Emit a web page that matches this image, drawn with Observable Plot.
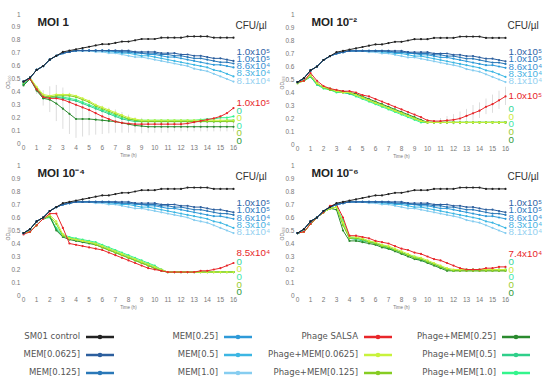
<!DOCTYPE html>
<html><head><meta charset="utf-8">
<script src="https://cdn.jsdelivr.net/npm/d3@7"></script>
<script src="https://cdn.jsdelivr.net/npm/@observablehq/plot@0.6"></script>
<style>
body{margin:0;background:#fff;}
#root{position:relative;width:550px;height:387px;overflow:hidden;font-family:"Liberation Sans",Arial,sans-serif;}
.panel{position:absolute;}
.lg{position:absolute;font-family:"DejaVu Sans",Verdana,sans-serif;font-size:8.5px;color:#555;white-space:nowrap;}
</style></head><body><div id="root"></div>
<script>
// ---------- data ----------
const time = [0,0.5,1,1.5,2,2.5,3,3.5,4,4.5,5,5.5,6,6.5,7,7.5,8,8.5,9,9.5,10,10.5,11,11.5,12,12.5,13,13.5,14,14.5,15,15.5,16];
const xTicks = [0,1,2,3,4,5,6,7,8,9,10,11,12,13,14,15,16];
const yTicks = [0,0.1,0.2,0.3,0.4,0.5,0.6,0.7,0.8,0.9,1];

const seriesNames = ["SM01 control","MEM[0.0625]","MEM[0.125]","MEM[0.25]","MEM[0.5]","MEM[1.0]",
  "Phage SALSA","Phage+MEM[0.0625]","Phage+MEM[0.125]","Phage+MEM[0.25]","Phage+MEM[0.5]","Phage+MEM[1.0]"];
const seriesColors = ["#222222","#2c5f9e","#2a78b8","#2e9ad8","#3cb6e3","#86cdf0",
  "#e8262a","#c8f23c","#86cc22","#2a8a2e","#2fcf8a","#33f58c"];

const panelTitles = ["MOI 1","MOI 10\u207B\u00B2","MOI 10\u207B\u2074","MOI 10\u207B\u2076"];
const memLabels = ["1.0x10\u2075","1.0x10\u2075","8.6x10\u2074","8.3x10\u2074","8.1x10\u2074"];
const memLabelColors = ["#2f63a6","#2c79c0","#3a92d4","#49b3e3","#93d0f0"];
const salsaLabels = ["1.0x10\u2075","1.0x10\u2075","8.5x10\u2074","7.4x10\u2074"];
const phageMemLabels = ["0","0","0","0","0"];
const phageMemLabelColors = ["#33d69a","#cbe93a","#3de8a8","#9ccc2e","#2f9a3a"];

// shared control and MEM-only curves
const control = [0.48,0.51,0.57,0.60,0.65,0.68,0.71,0.72,0.73,0.74,0.75,0.76,0.77,0.77,0.78,0.79,0.79,0.80,0.81,0.81,0.81,0.82,0.82,0.82,0.82,0.83,0.83,0.83,0.83,0.82,0.82,0.82,0.82];
const mem0625 = [0.48,0.51,0.57,0.60,0.65,0.68,0.70,0.71,0.72,0.72,0.72,0.72,0.72,0.72,0.72,0.72,0.72,0.71,0.71,0.71,0.71,0.70,0.70,0.70,0.69,0.69,0.68,0.68,0.67,0.66,0.66,0.65,0.64];
const mem125  = [0.48,0.51,0.57,0.60,0.65,0.68,0.70,0.71,0.72,0.72,0.72,0.72,0.72,0.72,0.72,0.71,0.71,0.71,0.70,0.70,0.70,0.69,0.69,0.68,0.68,0.67,0.66,0.66,0.65,0.64,0.63,0.63,0.62];
const mem25   = [0.48,0.51,0.57,0.60,0.65,0.68,0.70,0.71,0.72,0.72,0.72,0.72,0.72,0.72,0.71,0.71,0.71,0.70,0.70,0.69,0.69,0.68,0.67,0.67,0.66,0.65,0.64,0.63,0.62,0.61,0.61,0.60,0.59];
const mem5    = [0.48,0.51,0.57,0.60,0.65,0.68,0.70,0.71,0.72,0.72,0.72,0.72,0.72,0.71,0.71,0.70,0.70,0.69,0.68,0.68,0.67,0.66,0.65,0.64,0.63,0.62,0.61,0.60,0.59,0.57,0.56,0.54,0.52];
const mem10   = [0.48,0.51,0.57,0.60,0.65,0.68,0.70,0.71,0.72,0.72,0.72,0.71,0.71,0.70,0.70,0.69,0.68,0.67,0.67,0.66,0.65,0.64,0.63,0.62,0.61,0.60,0.58,0.57,0.56,0.54,0.52,0.50,0.48];

// MOI 1
const salsa_m1 = [0.48,0.50,0.42,0.36,0.35,0.35,0.34,0.32,0.30,0.28,0.26,0.235,0.21,0.19,0.17,0.16,0.155,0.15,0.15,0.15,0.15,0.15,0.15,0.15,0.15,0.155,0.165,0.175,0.185,0.195,0.21,0.235,0.275];
const pm0625_m1 = [0.48,0.51,0.44,0.38,0.37,0.38,0.38,0.38,0.37,0.35,0.33,0.30,0.28,0.26,0.24,0.22,0.20,0.19,0.18,0.18,0.18,0.18,0.18,0.18,0.18,0.18,0.18,0.18,0.18,0.18,0.18,0.18,0.18];
const pm125_m1 = [0.47,0.51,0.43,0.37,0.36,0.37,0.37,0.37,0.36,0.34,0.32,0.29,0.27,0.25,0.23,0.21,0.19,0.18,0.17,0.17,0.17,0.17,0.17,0.17,0.17,0.17,0.17,0.17,0.17,0.17,0.17,0.17,0.17];
const pm25_m1 = [0.45,0.50,0.41,0.35,0.34,0.31,0.27,0.23,0.19,0.19,0.19,0.185,0.18,0.175,0.17,0.16,0.15,0.14,0.135,0.13,0.13,0.13,0.13,0.13,0.13,0.13,0.13,0.13,0.13,0.13,0.13,0.13,0.13];
const pm5_m1 = [0.46,0.50,0.42,0.36,0.36,0.36,0.35,0.34,0.33,0.31,0.29,0.27,0.25,0.23,0.21,0.19,0.18,0.17,0.17,0.17,0.17,0.17,0.17,0.17,0.17,0.17,0.17,0.17,0.17,0.17,0.17,0.18,0.18];
const pm10_m1 = [0.46,0.50,0.42,0.35,0.36,0.36,0.36,0.35,0.34,0.32,0.30,0.28,0.26,0.24,0.22,0.20,0.19,0.18,0.18,0.18,0.18,0.18,0.18,0.18,0.18,0.18,0.18,0.185,0.19,0.19,0.20,0.20,0.21];
const err_m1 = [0,0,0.03,0.06,0.10,0.14,0.16,0.16,0.15,0.14,0.13,0.12,0.11,0.10,0.09,0.08,0.07,0.06,0.06,0.05,0.05,0.05,0.05,0.04,0.04,0.04,0.04,0.04,0.04,0.04,0.04,0.04,0.04];

// MOI 10^-2
const salsa_m2 = [0.48,0.49,0.55,0.49,0.45,0.43,0.42,0.41,0.41,0.40,0.38,0.37,0.35,0.33,0.31,0.29,0.27,0.25,0.23,0.21,0.185,0.18,0.18,0.185,0.19,0.20,0.22,0.24,0.26,0.29,0.31,0.34,0.37];
const pm0625_m2 = [0.48,0.49,0.53,0.47,0.44,0.43,0.41,0.40,0.40,0.38,0.36,0.34,0.32,0.30,0.28,0.26,0.24,0.22,0.20,0.18,0.17,0.17,0.17,0.17,0.17,0.17,0.17,0.17,0.17,0.17,0.17,0.17,0.17];
const pm125_m2 = [0.47,0.49,0.53,0.47,0.44,0.42,0.41,0.40,0.40,0.38,0.36,0.34,0.32,0.30,0.28,0.26,0.24,0.22,0.20,0.18,0.17,0.17,0.17,0.17,0.17,0.17,0.17,0.17,0.17,0.17,0.17,0.17,0.17];
const pm25_m2 = [0.48,0.49,0.53,0.47,0.44,0.43,0.41,0.41,0.40,0.39,0.37,0.35,0.33,0.31,0.29,0.27,0.25,0.23,0.21,0.19,0.17,0.17,0.17,0.17,0.17,0.17,0.17,0.17,0.17,0.17,0.17,0.17,0.17];
const pm5_m2 = [0.48,0.49,0.52,0.46,0.44,0.42,0.41,0.40,0.39,0.38,0.36,0.34,0.32,0.30,0.28,0.26,0.24,0.22,0.20,0.18,0.17,0.17,0.17,0.17,0.17,0.17,0.17,0.17,0.17,0.17,0.17,0.17,0.17];
const pm10_m2 = [0.48,0.49,0.52,0.46,0.43,0.42,0.40,0.40,0.39,0.37,0.35,0.33,0.31,0.29,0.27,0.25,0.23,0.21,0.19,0.17,0.17,0.17,0.17,0.17,0.17,0.17,0.17,0.17,0.17,0.17,0.17,0.17,0.17];
const err_m2 = [0,0,0,0,0,0,0,0,0,0,0,0,0,0,0,0,0,0,0,0,0,0,0.02,0.03,0.04,0.05,0.05,0.06,0.06,0.06,0.07,0.07,0.07];

// MOI 10^-4
const salsa_m3 = [0.47,0.49,0.54,0.59,0.63,0.63,0.52,0.40,0.39,0.38,0.37,0.36,0.35,0.33,0.31,0.29,0.27,0.25,0.23,0.21,0.20,0.19,0.18,0.18,0.18,0.18,0.18,0.19,0.19,0.20,0.21,0.23,0.25];
const pm0625_m3 = [0.48,0.49,0.54,0.59,0.62,0.57,0.47,0.44,0.43,0.42,0.41,0.40,0.38,0.36,0.34,0.32,0.30,0.28,0.26,0.24,0.22,0.20,0.18,0.18,0.18,0.18,0.18,0.18,0.18,0.18,0.18,0.18,0.18];
const pm125_m3 = [0.48,0.49,0.54,0.59,0.61,0.55,0.46,0.44,0.43,0.42,0.41,0.39,0.37,0.35,0.33,0.31,0.29,0.27,0.25,0.23,0.21,0.19,0.18,0.18,0.18,0.18,0.18,0.18,0.18,0.18,0.18,0.18,0.18];
const pm25_m3 = [0.48,0.49,0.54,0.59,0.61,0.50,0.45,0.43,0.42,0.41,0.40,0.39,0.37,0.35,0.33,0.31,0.29,0.27,0.25,0.23,0.21,0.19,0.18,0.18,0.18,0.18,0.18,0.18,0.18,0.18,0.18,0.18,0.18];
const pm5_m3 = [0.48,0.49,0.54,0.59,0.61,0.51,0.46,0.44,0.43,0.42,0.41,0.40,0.38,0.36,0.34,0.32,0.30,0.28,0.26,0.24,0.22,0.20,0.18,0.18,0.18,0.18,0.18,0.18,0.18,0.18,0.18,0.18,0.18];
const pm10_m3 = [0.48,0.49,0.54,0.59,0.60,0.52,0.47,0.45,0.44,0.43,0.42,0.41,0.39,0.37,0.35,0.33,0.31,0.29,0.27,0.25,0.23,0.20,0.18,0.18,0.18,0.18,0.18,0.18,0.18,0.18,0.18,0.18,0.18];

// MOI 10^-6
const salsa_m4 = [0.48,0.49,0.55,0.60,0.64,0.69,0.70,0.60,0.46,0.46,0.45,0.44,0.42,0.41,0.40,0.38,0.36,0.35,0.33,0.32,0.30,0.28,0.27,0.25,0.23,0.21,0.20,0.20,0.20,0.21,0.21,0.22,0.22];
const pm0625_m4 = [0.48,0.49,0.55,0.60,0.64,0.67,0.68,0.56,0.45,0.45,0.44,0.42,0.41,0.39,0.38,0.36,0.34,0.32,0.30,0.29,0.27,0.25,0.23,0.21,0.20,0.20,0.20,0.20,0.20,0.20,0.20,0.20,0.20];
const pm125_m4 = [0.48,0.49,0.55,0.60,0.64,0.67,0.68,0.54,0.44,0.44,0.43,0.41,0.40,0.38,0.37,0.35,0.33,0.31,0.29,0.28,0.26,0.24,0.22,0.20,0.19,0.19,0.19,0.19,0.19,0.19,0.19,0.19,0.19];
const pm25_m4 = [0.48,0.49,0.55,0.60,0.64,0.67,0.66,0.50,0.42,0.42,0.41,0.40,0.39,0.37,0.36,0.34,0.32,0.30,0.28,0.27,0.25,0.23,0.21,0.19,0.19,0.19,0.19,0.19,0.19,0.19,0.19,0.19,0.19];
const pm5_m4 = [0.48,0.49,0.55,0.60,0.64,0.67,0.68,0.55,0.44,0.43,0.42,0.41,0.40,0.38,0.36,0.35,0.33,0.31,0.29,0.27,0.26,0.24,0.22,0.20,0.19,0.20,0.20,0.20,0.20,0.20,0.20,0.20,0.20];
const pm10_m4 = [0.48,0.49,0.55,0.60,0.64,0.67,0.68,0.58,0.45,0.44,0.43,0.42,0.40,0.39,0.37,0.35,0.33,0.31,0.30,0.28,0.26,0.24,0.22,0.20,0.19,0.20,0.20,0.20,0.20,0.20,0.20,0.20,0.20];

// ---------- layout ----------
const memSeries = [control, mem0625, mem125, mem25, mem5, mem10];
const panels = [
  {left:0,   top:0,   mL:23, mR:42, mB:17, phage:[salsa_m1,pm0625_m1,pm125_m1,pm25_m1,pm5_m1,pm10_m1], err:err_m1, errOn:pm25_m1, redY:0.318, greenY:0.256},
  {left:275, top:0,   mL:22, mR:45, mB:16, phage:[salsa_m2,pm0625_m2,pm125_m2,pm25_m2,pm5_m2,pm10_m2], err:err_m2, errOn:salsa_m2, redY:0.377, greenY:0.275},
  {left:0,   top:151, mL:23, mR:42, mB:16, phage:[salsa_m3,pm0625_m3,pm125_m3,pm25_m3,pm5_m3,pm10_m3], err:null, redY:0.325, greenY:0.262},
  {left:275, top:151, mL:22, mR:45, mB:16, phage:[salsa_m4,pm0625_m4,pm125_m4,pm25_m4,pm5_m4,pm10_m4], err:null, redY:0.318, greenY:0.258}
];

const root = document.getElementById("root");
const T = (d,i) => time[i];

panels.forEach((p, pi) => {
  const all = [...memSeries, ...p.phage];
  const marks = [];
  if (p.err) {
    marks.push(Plot.ruleX(p.err, {
      filter: d => d > 0, x: T,
      y1: (d,i) => p.errOn[i] - d, y2: (d,i) => p.errOn[i] + d,
      stroke: "#d4d4d4", strokeWidth: 0.8
    }));
  }
  // draw phage first, then MEM, then control
  const order = [11,10,9,8,7,6,5,4,3,2,1,0];
  order.forEach(k => {
    const arr = all[k];
    marks.push(Plot.line(arr, {x: T, y: d => d, stroke: seriesColors[k], strokeWidth: 1}));
    marks.push(Plot.dot(arr, {x: T, y: d => d, r: 1.1, fill: seriesColors[k], stroke: null}));
  });
  // axes
  marks.push(Plot.axisX({ticks: xTicks, tickSize: 0, tickPadding: 2, fontSize: 6.5, fill: "#777", label: null}));
  marks.push(Plot.axisY({ticks: yTicks, tickSize: 0, tickPadding: 3, fontSize: 6.5, fill: "#777", label: null,
    tickFormat: d => String(+d.toFixed(1))}));
  marks.push(Plot.text(["Time (h)"], {frameAnchor: "bottom", dy: 13, fontSize: 4.5, fill: "#777", text: d => d}));
  marks.push(Plot.text(["OD\u2086\u2080\u2080"], {frameAnchor: "left", dx: -15, dy: 10, rotate: -90, fontSize: 5, fill: "#777", text: d => d}));
  // title
  marks.push(Plot.text([panelTitles[pi]], {frameAnchor: "top-left", dx: 14, dy: 8, textAnchor: "start", lineAnchor: "middle",
    fontSize: 11.5, fontWeight: "bold", fill: "#222", text: d => d}));
  marks.push(Plot.text(["CFU/\u00B5l"], {frameAnchor: "top-right", dx: 2, dy: 11, textAnchor: "start", lineAnchor: "middle",
    fontSize: 10, fill: "#333", text: d => d}));
  // right-hand labels
  marks.push(Plot.text(memLabels, {x: 16, y: (d,i) => 0.713 - 0.056*i, dx: 3, textAnchor: "start", lineAnchor: "middle",
    fontSize: 9.8, fill: (d,i) => memLabelColors[i], text: d => d}));
  marks.push(Plot.text([salsaLabels[pi]], {x: 16, y: p.redY, dx: 3, textAnchor: "start", lineAnchor: "middle",
    fontSize: 9.8, fill: "#e8262a", text: d => d}));
  marks.push(Plot.text(phageMemLabels, {x: 16, y: (d,i) => p.greenY - 0.059*i, dx: 3, textAnchor: "start", lineAnchor: "middle",
    fontSize: 9.8, fill: (d,i) => phageMemLabelColors[i], text: d => d}));

  const svg = Plot.plot({
    width: 275, height: 160,
    marginLeft: p.mL, marginRight: p.mR, marginTop: 14, marginBottom: p.mB,
    x: {domain: [0, 16]},
    y: {domain: [0, 1]},
    style: {background: "transparent", overflow: "visible", fontFamily: "'Liberation Sans', Arial, sans-serif"},
    marks
  });
  const div = document.createElement("div");
  div.className = "panel";
  div.style.left = p.left + "px";
  div.style.top = p.top + "px";
  div.appendChild(svg);
  root.appendChild(div);
});

// ---------- legend ----------
const colTextRight = [80, 218, 358, 496];
const rowY = [337, 355, 373];
seriesNames.forEach((name, k) => {
  const col = Math.floor(k / 3), row = k % 3;
  const lab = document.createElement("div");
  lab.className = "lg";
  lab.textContent = name;
  lab.style.right = (550 - colTextRight[col]) + "px";
  lab.style.top = (rowY[row] - 6) + "px";
  root.appendChild(lab);
  const sw = document.createElementNS("http://www.w3.org/2000/svg", "svg");
  sw.setAttribute("width", 30); sw.setAttribute("height", 8);
  sw.style.position = "absolute";
  sw.style.left = (colTextRight[col] + 5) + "px";
  sw.style.top = (rowY[row] - 4) + "px";
  sw.innerHTML = `<line x1="1" y1="4" x2="29" y2="4" stroke="${seriesColors[k]}" stroke-width="2.5"/><circle cx="15" cy="4" r="2.3" fill="${seriesColors[k]}"/>`;
  root.appendChild(sw);
});
</script></body></html>
